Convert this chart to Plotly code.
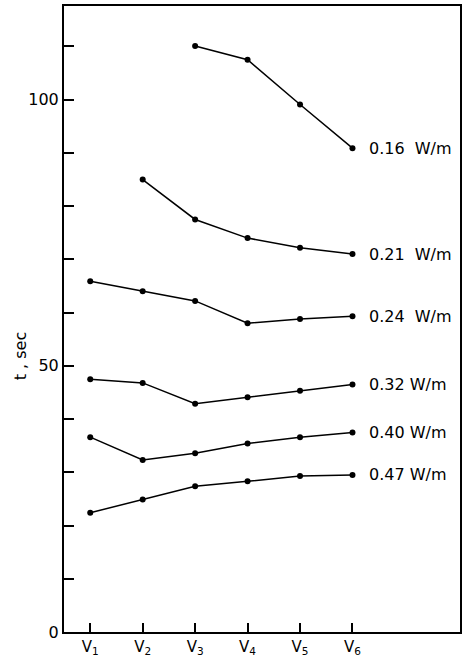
import plotly.graph_objects as go

categories = [1, 2, 3, 4, 5, 6]
x_labels = ["V<sub>1</sub>", "V<sub>2</sub>", "V<sub>3</sub>", "V<sub>4</sub>", "V<sub>5</sub>", "V<sub>6</sub>"]

s016 = [None, None, 110.1, 107.5, 99.1, 90.9]
s021 = [None, 85.0, 77.5, 74.0, 72.2, 71.0]
s024 = [65.9, 64.0, 62.2, 58.0, 58.8, 59.3]
s032 = [47.5, 46.8, 42.9, 44.1, 45.3, 46.5]
s040 = [36.6, 32.3, 33.6, 35.4, 36.6, 37.5]
s047 = [22.4, 24.9, 27.4, 28.3, 29.3, 29.5]

series = [s016, s021, s024, s032, s040, s047]
series_labels = ["0.16\u00a0\u00a0W/m", "0.21\u00a0\u00a0W/m", "0.24\u00a0\u00a0W/m",
                 "0.32 W/m", "0.40 W/m", "0.47 W/m"]

y_tickvals = [0, 10, 20, 30, 40, 50, 60, 70, 80, 90, 100, 110]
y_ticktext = ["0", "", "", "", "", "50", "", "", "", "", "100", ""]

FONT = "DejaVu Sans"

fig = go.Figure()
for vals, lab in zip(series, series_labels):
    fig.add_trace(go.Scatter(
        x=categories, y=vals, mode="lines+markers",
        line=dict(color="black", width=1.5),
        marker=dict(color="black", size=6),
        connectgaps=False, showlegend=False, hoverinfo="skip",
    ))
    fig.add_annotation(
        x=categories[-1], y=vals[-1], xref="x", yref="y",
        text=lab, showarrow=False, xanchor="left", yanchor="middle",
        xshift=15, font=dict(family=FONT, size=16, color="black"),
    )

fig.add_annotation(
    xref="paper", yref="y", x=0, y=51.8, xshift=-44,
    text="t , sec", textangle=-90, showarrow=False,
    xanchor="center", yanchor="middle",
    font=dict(family=FONT, size=16, color="black"),
)

fig.update_layout(
    width=466, height=663,
    margin=dict(l=64, r=4, t=5, b=31),
    plot_bgcolor="white", paper_bgcolor="white",
    font=dict(family=FONT, size=16, color="black"),
)
fig.update_xaxes(
    range=[0.5, 8.05], tickvals=categories, ticktext=x_labels,
    ticks="inside", ticklen=9, tickwidth=1.5, tickcolor="black",
    showline=True, linecolor="black", linewidth=2, mirror=True,
    showgrid=False, zeroline=False,
    tickfont=dict(family=FONT, size=15, color="black"),
)
fig.update_yaxes(
    range=[0, 117.6], tickvals=y_tickvals, ticktext=y_ticktext,
    ticks="inside", ticklen=10, tickwidth=1.5, tickcolor="black",
    showline=True, linecolor="black", linewidth=2, mirror=True,
    showgrid=False, zeroline=False,
    tickfont=dict(family=FONT, size=16, color="black"),
)

fig.write_html(
    "out.html",
    config={"displayModeBar": False},
    post_script="document.body.style.margin='0';document.body.style.overflow='hidden';",
)
